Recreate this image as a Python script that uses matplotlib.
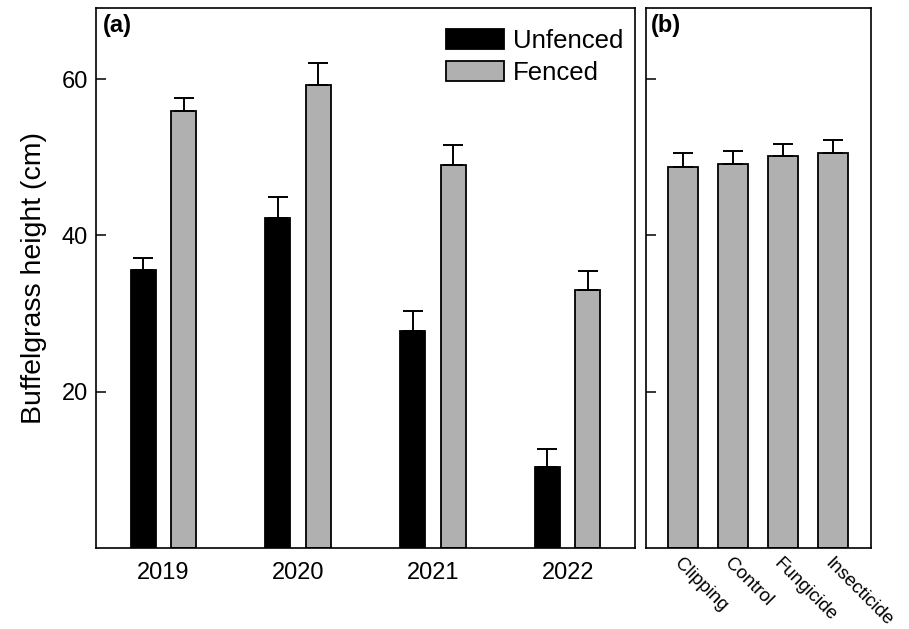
import matplotlib
matplotlib.use("Agg")
import matplotlib.pyplot as plt
import numpy as np

plt.rcParams['font.family'] = ['Liberation Sans', 'DejaVu Sans']

years = ["2019", "2020", "2021", "2022"]
unfenced = [35.6, 42.2, 27.8, 10.4]
unfenced_se = [1.5, 2.7, 2.5, 2.3]
fenced = [55.9, 59.2, 49.0, 33.0]
fenced_se = [1.7, 2.9, 2.6, 2.4]

treatments = ["Clipping", "Control", "Fungicide", "Insecticide"]
treat_vals = [48.7, 49.1, 50.1, 50.5]
treat_se = [1.8, 1.7, 1.6, 1.7]

yticks = [20, 40, 60]
ylim = (0, 69.1)
gray = "#b0b0b0"

fig = plt.figure(figsize=(9.09, 6.29), dpi=100)
axa = fig.add_axes([0.1056, 0.1288, 0.593, 0.8585])
axb = fig.add_axes([0.7107, 0.1288, 0.2475, 0.8585])

x = np.arange(len(years))
w = 0.185
off = 0.15
err_kw = dict(ecolor='black', elinewidth=1.4, capsize=7, capthick=1.4)
axa.bar(x - off, unfenced, w, color='black', edgecolor='black', linewidth=1.3,
        yerr=[np.zeros(len(unfenced)), unfenced_se], error_kw=err_kw, label="Unfenced")
axa.bar(x + off, fenced, w, color=gray, edgecolor='black', linewidth=1.3,
        yerr=[np.zeros(len(fenced)), fenced_se], error_kw=err_kw, label="Fenced")
axa.set_xlim(-0.5, 3.5)
axa.set_ylim(*ylim)
axa.set_xticks(x)
axa.set_xticklabels(years, fontsize=17)
axa.set_yticks(yticks)
axa.set_yticklabels([str(t) for t in yticks], fontsize=17)
axa.tick_params(axis='y', direction='in', length=7, width=1.1, pad=6)
axa.tick_params(axis='x', length=0, pad=10)
axa.set_ylabel("Buffelgrass height (cm)", fontsize=20.5, labelpad=10)
axa.text(0.013, 0.988, "(a)", transform=axa.transAxes, fontsize=17, fontweight='bold',
         ha='left', va='top')
leg = axa.legend(loc='upper right', bbox_to_anchor=(1.012, 0.995), fontsize=18.5,
                 frameon=False, handlelength=2.25, handleheight=0.85,
                 handletextpad=0.35, labelspacing=0.3, borderaxespad=0.3)

xb = np.arange(len(treatments))
axb.bar(xb, treat_vals, 0.6, color=gray, edgecolor='black', linewidth=1.3,
        yerr=[np.zeros(len(treat_vals)), treat_se], error_kw=err_kw)
axb.set_xlim(-0.74, 3.76)
axb.set_ylim(*ylim)
axb.set_yticks(yticks)
axb.set_yticklabels([])
axb.tick_params(axis='y', direction='in', length=7, width=1.1)
axb.set_xticks(xb)
axb.set_xticklabels(treatments, rotation=-45, ha='left', va='top',
                    rotation_mode='anchor', fontsize=13.5)
axb.tick_params(axis='x', length=0, pad=5)
axb.text(0.02, 0.988, "(b)", transform=axb.transAxes, fontsize=17, fontweight='bold',
         ha='left', va='top')

for ax in (axa, axb):
    for s in ax.spines.values():
        s.set_linewidth(1.2)

fig.savefig("out.png", dpi=100)
